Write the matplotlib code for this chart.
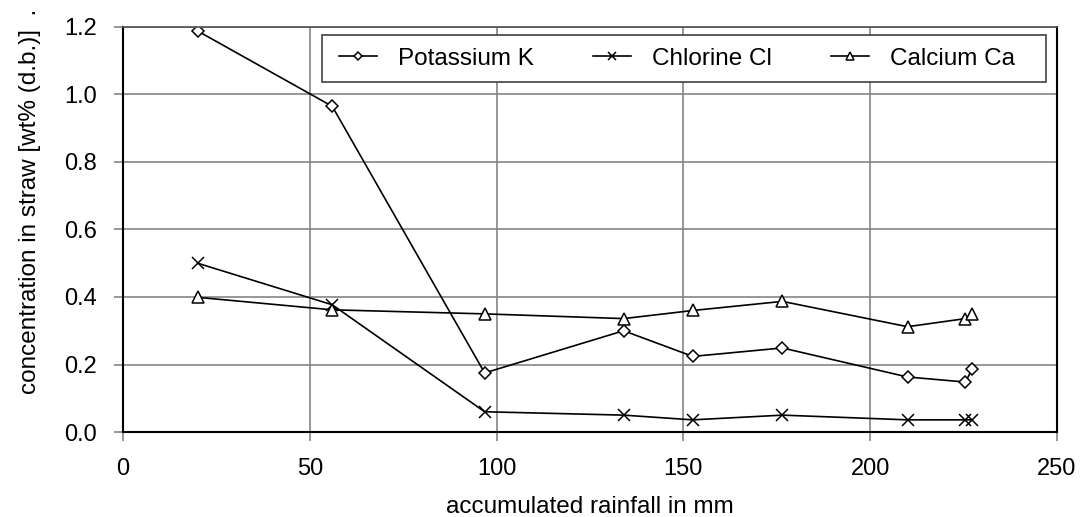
import matplotlib
matplotlib.use("Agg")
import matplotlib.pyplot as plt
from matplotlib.patches import Rectangle

plt.rcParams['font.family'] = ['Liberation Sans', 'DejaVu Sans']

# accumulated rainfall (mm) at each straw sampling
rainfall = [20, 56, 96.8, 134, 152.5, 176.5, 210, 225.5, 227.3]
potassium = [1.188, 0.965, 0.175, 0.30, 0.224, 0.249, 0.163, 0.148, 0.187]
chlorine = [0.50, 0.377, 0.06, 0.05, 0.036, 0.05, 0.036, 0.036, 0.036]
calcium = [0.399, 0.362, 0.35, 0.336, 0.36, 0.387, 0.312, 0.336, 0.35]

xticks = [0, 50, 100, 150, 200, 250]
yticks = [0.0, 0.2, 0.4, 0.6, 0.8, 1.0, 1.2]

fig = plt.figure(figsize=(10.8, 5.17), dpi=100)
ax = fig.add_axes([0.1139, 0.1644, 0.8648, 0.7834])

style = dict(color='black', lw=1.2, mfc='white', mec='black', mew=1.1)
ax.plot(rainfall, potassium, marker='D', ms=6, label='Potassium K', **style)
ax.plot(rainfall, chlorine, marker='x', ms=9, label='Chlorine Cl', **style)
ax.plot(rainfall, calcium, marker='^', ms=9, label='Calcium Ca', **style)

ax.set_xlim(0, 250)
ax.set_ylim(0, 1.2)
ax.set_xticks(xticks)
ax.set_yticks(yticks)
ax.set_yticklabels([f'{v:.1f}' for v in yticks])
ax.grid(True, color='#858585', lw=1.2)
ax.set_axisbelow(True)
ax.tick_params(labelsize=17, length=6.5, color='#858585', width=1.2)
ax.tick_params(axis='y', pad=12)
ax.tick_params(axis='x', pad=12)
for side in ['left', 'bottom', 'right']:
    ax.spines[side].set_color('black')
    ax.spines[side].set_linewidth(1.5)
ax.spines['top'].set_color('#505050')
ax.spines['top'].set_linewidth(1.2)

ax.set_xlabel('accumulated rainfall in mm', fontsize=17.5, labelpad=12)
ax.set_ylabel('concentration in straw [wt% (d.b.)]  .', fontsize=17.5)
ax.yaxis.set_label_coords(-0.088, 0.57)

# legend box drawn separately so it can be wider than its entries
box = Rectangle((0.213, 0.864), 0.775, 0.116, transform=ax.transAxes,
                facecolor='white', edgecolor='#404040', lw=1.2, zorder=4)
ax.add_patch(box)
leg = ax.legend(loc='center left', bbox_to_anchor=(0.213, 0.922), ncol=3, fontsize=17.5,
                frameon=False, handlelength=1.55, borderpad=0.0, borderaxespad=0.7,
                handletextpad=0.86, columnspacing=2.45, markerscale=0.65)
leg.set_zorder(5)

fig.savefig('out.png', dpi=100)
